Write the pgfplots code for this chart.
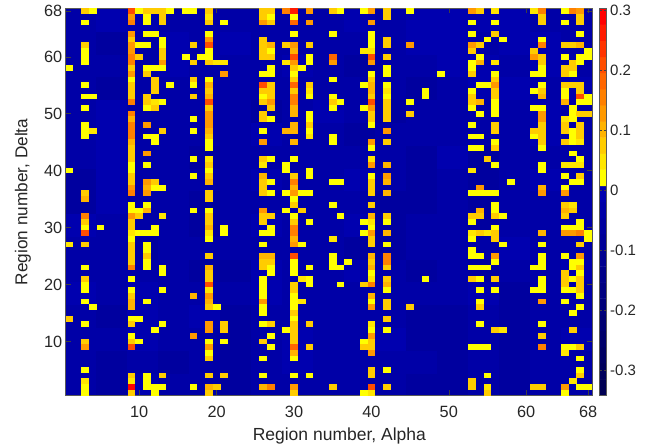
\documentclass[border=0pt]{standalone}
\usepackage{fontspec}
\setmainfont{Liberation Sans}
\usepackage{pgfplots}
\pgfplotsset{compat=1.18}
\pgfdeclareplotmark{cell}{\pgfpathrectangle{\pgfpoint{-3.9pt}{-2.875pt}}{\pgfpoint{7.8pt}{5.75pt}}\pgfusepathqfill}
\pgfplotsset{
 colormap={alphadelta}{rgb255=(0,0,84) rgb255=(0,0,92) rgb255=(0,0,99) rgb255=(0,0,107) rgb255=(0,0,114) rgb255=(0,0,122) rgb255=(0,0,129) rgb255=(0,0,137) rgb255=(0,0,144) rgb255=(0,0,152) rgb255=(0,0,159) rgb255=(0,0,167) rgb255=(0,0,175)
  rgb255=(255,255,0) rgb255=(255,230,0) rgb255=(255,204,0) rgb255=(255,179,0) rgb255=(255,153,0) rgb255=(255,128,0) rgb255=(255,102,0) rgb255=(255,77,0) rgb255=(255,51,0) rgb255=(255,26,0) rgb255=(255,0,0)},
 colormap access=piecewise constant,
 point meta min=-34.2, point meta max=30.4,
 tick style={color=black!75,line width=0.4pt},
 axis line style={color=black!65,line width=0.6pt},
 tick align=inside,
 major tick length=5pt,
 every tick label/.append style={text=black!85},
}
\newcommand{\R}[2]{\addplot[scatter,only marks,mark=cell,scatter src=explicit] table[row sep=\\,header=false,x index=0,meta index=1,y expr=#1]{#2};}
\begin{document}
\begin{tikzpicture}
\path[use as bounding box] (-65.7pt,-51.5pt) rectangle (596.3pt,395.5pt);
\begin{axis}[at={(0pt,0pt)},anchor=south west,scale only axis,width=526.3pt,height=387.2pt,
 xmin=0.5,xmax=68.5,ymin=0.5,ymax=68.5,axis on top,
 xtick={10,20,30,40,50,60,68},xticklabels={10,20,30,40,50,60,68},
 ytick={10,20,30,40,50,60,68},yticklabels={10,20,30,40,50,60,68},
 ticklabel style={font=\fontsize{16.3}{18}\selectfont},
 xticklabel style={yshift=-7pt},
 xlabel={Region number, Alpha},ylabel={Region number, Delta},
 label style={font=\fontsize{17.5}{20}\selectfont,text=black!85},
 xlabel style={at={(axis description cs:0.5,0)},anchor=center,xshift=10.5pt,yshift=-40pt},
 ylabel style={at={(axis description cs:0,0.5)},anchor=center,font=\fontsize{17.2}{20}\selectfont,yshift=42.7pt},
]
\addplot[matrix plot*,mesh/cols=17,point meta=explicit] table[row sep=\\,header=false,meta index=0,x expr={4*mod(\coordindex,17)+2.5},y expr={4*int((\coordindex+0.5)/17)+2.5}]{
-3\\-6\\-1\\-3\\-3\\-6\\-3\\-3\\-3\\-3\\-3\\-6\\-6\\-3\\-6\\-3\\-3\\
-3\\-6\\-3\\-6\\-3\\-6\\-3\\-1\\-3\\-3\\-3\\-3\\-6\\-3\\-6\\-3\\-3\\
-3\\-3\\-1\\-3\\-3\\-6\\-3\\-1\\-3\\-3\\-1\\-6\\-6\\-3\\-6\\-3\\-1\\
-3\\-6\\-1\\-3\\-1\\-6\\-3\\-3\\-3\\-3\\-3\\-6\\-6\\-3\\-6\\-3\\-3\\
-1\\-3\\-1\\-3\\-3\\-3\\-1\\-3\\-3\\-3\\-3\\-3\\-3\\-1\\-6\\-3\\-3\\
-3\\-3\\-3\\-3\\-6\\-6\\-1\\-3\\-3\\-1\\-3\\-6\\-3\\-6\\-3\\-3\\-1\\
-3\\-3\\-6\\-3\\-3\\-3\\-3\\-3\\-3\\-6\\-6\\-3\\-3\\-3\\-1\\-3\\-3\\
-1\\-3\\-3\\-3\\-6\\-3\\-1\\-3\\-3\\-1\\-6\\-3\\-3\\-6\\-3\\-3\\-3\\
-6\\-1\\-3\\-3\\-6\\-3\\-3\\-3\\-3\\-3\\-6\\-6\\-3\\-6\\-3\\-3\\-3\\
-6\\-1\\-3\\-3\\-3\\-3\\-1\\-3\\-3\\-1\\-3\\-6\\-3\\-6\\-3\\-1\\-3\\
-3\\-1\\-3\\-3\\-6\\-3\\-3\\-3\\-3\\-3\\-3\\-6\\-1\\-6\\-3\\-3\\-3\\
-3\\-1\\-3\\-3\\-3\\-3\\-1\\-3\\-3\\-6\\-3\\-3\\-3\\-3\\-3\\-1\\-3\\
-3\\-1\\-3\\-3\\-3\\-3\\-6\\-3\\-1\\-3\\-6\\-3\\-3\\-3\\-3\\-1\\-3\\
-3\\-6\\-3\\-3\\-3\\-3\\-3\\-3\\-3\\-3\\-3\\-6\\-3\\-1\\-1\\-3\\-1\\
-3\\-3\\-3\\-1\\-3\\-3\\-3\\-1\\-3\\-6\\-3\\-3\\-1\\-1\\-3\\-1\\-3\\
-3\\-6\\-3\\-1\\-3\\-1\\-3\\-3\\-3\\-3\\-3\\-1\\-1\\-3\\-1\\-1\\-3\\
-3\\-1\\-1\\-3\\-3\\-3\\-3\\-3\\-3\\-1\\-3\\-1\\-1\\-1\\-1\\-3\\-3\\
};
\R{68}{3 8\\4 2\\9 21\\10 2\\11 8\\12 8\\13 8\\14 2\\16 2\\17 2\\19 8\\26 8\\27 8\\29 16\\30 26\\32 13\\35 8\\36 2\\39 2\\40 13\\42 8\\45 2\\53 13\\54 8\\56 5\\61 5\\62 16\\65 2\\66 16\\67 13\\}
\R{67}{9 13\\11 2\\13 8\\19 5\\26 8\\27 2\\30 2\\42 8\\62 8\\67 8\\}
\R{66}{3 2\\9 16\\11 2\\13 8\\19 8\\21 2\\26 13\\27 8\\30 18\\32 13\\40 13\\53 2\\56 2\\62 8\\65 2\\67 8\\}
\R{64}{9 13\\11 2\\12 2\\19 2\\30 2\\35 2\\40 2\\53 2\\56 8\\67 2\\}
\R{63}{9 8\\13 2\\19 13\\26 8\\40 2\\42 8\\55 2\\57 2\\62 2\\}
\R{62}{3 8\\9 13\\10 2\\11 2\\13 2\\17 8\\19 21\\26 8\\27 10\\29 8\\30 13\\32 8\\40 2\\42 8\\45 13\\53 13\\54 8\\62 16\\65 8\\66 8\\67 10\\}
\R{61}{3 2\\9 13\\13 8\\19 2\\26 8\\27 2\\30 10\\39 5\\40 5\\53 8\\61 8\\68 2\\}
\R{60}{3 2\\9 16\\10 8\\13 8\\16 2\\18 2\\19 2\\26 8\\27 8\\30 21\\32 2\\35 18\\40 21\\42 8\\54 2\\61 13\\62 8\\65 2\\67 2\\68 2\\}
\R{59}{3 2\\9 16\\13 13\\17 8\\19 8\\20 5\\21 5\\29 5\\30 13\\32 2\\35 13\\40 13\\53 2\\54 10\\56 5\\62 8\\66 8\\67 2\\}
\R{58}{1 2\\9 8\\11 2\\12 2\\13 2\\27 2\\30 8\\31 2\\42 2\\53 2\\62 2\\65 8\\66 8\\}
\R{57}{9 13\\11 8\\21 13\\26 2\\27 2\\30 2\\40 2\\42 2\\49 2\\53 8\\56 2\\61 2\\62 2\\65 8\\66 2\\}
\R{56}{9 2\\12 8\\17 8\\19 2\\30 8\\35 2\\40 8\\56 8\\}
\R{55}{3 2\\9 8\\12 8\\14 2\\17 2\\19 10\\26 21\\27 8\\30 18\\32 8\\39 2\\40 10\\42 2\\54 2\\55 2\\56 13\\62 2\\65 8\\66 8\\67 8\\}
\R{54}{9 8\\12 8\\19 8\\26 8\\27 8\\30 8\\32 5\\40 10\\42 5\\47 2\\53 2\\56 8\\61 2\\62 8\\65 2\\67 8\\}
\R{53}{3 2\\4 2\\9 8\\11 8\\17 8\\19 10\\26 2\\27 8\\30 16\\32 2\\35 2\\40 8\\42 2\\47 2\\53 8\\56 8\\62 10\\65 2\\67 21\\68 2\\}
\R{52}{9 16\\11 8\\12 5\\13 2\\19 21\\26 8\\27 13\\30 16\\35 8\\36 2\\40 21\\42 8\\45 2\\53 8\\54 10\\56 2\\65 10\\67 2\\68 2\\}
\R{51}{3 2\\11 2\\12 8\\19 8\\27 8\\30 10\\35 2\\39 2\\40 13\\42 8\\53 2\\56 2\\61 2\\62 2\\66 2\\}
\R{50}{9 16\\19 13\\26 8\\30 10\\32 2\\40 8\\42 8\\45 8\\54 2\\56 2\\62 13\\66 2\\67 8\\68 8\\}
\R{49}{9 10\\17 2\\19 13\\26 8\\27 2\\32 2\\40 8\\42 8\\62 13\\65 5\\66 2\\}
\R{48}{3 2\\9 16\\11 13\\19 13\\30 10\\32 8\\40 2\\53 2\\56 8\\62 8\\65 8\\67 8\\}
\R{47}{3 2\\4 5\\9 16\\13 8\\17 2\\19 10\\26 2\\29 10\\30 10\\32 2\\42 13\\56 8\\61 8\\62 8\\65 8\\66 2\\67 8\\}
\R{46}{3 2\\9 16\\11 2\\12 2\\19 8\\32 5\\35 2\\53 2\\54 2\\61 2\\62 8\\66 2\\67 8\\}
\R{45}{9 10\\12 2\\19 2\\26 13\\30 10\\35 2\\40 13\\42 8\\56 2\\62 8\\65 8\\66 2\\67 5\\}
\R{44}{9 8\\19 2\\40 2\\53 2\\54 2\\56 8\\62 2\\}
\R{43}{9 8\\11 13\\66 2\\}
\R{42}{9 8\\17 2\\19 5\\26 8\\27 2\\30 2\\40 5\\55 8\\67 2\\}
\R{41}{9 2\\11 2\\19 8\\26 5\\29 2\\40 13\\42 10\\56 2\\62 2\\65 5\\66 5\\67 5\\}
\R{40}{1 2\\9 2\\19 2\\29 2\\32 2\\53 5\\62 2\\}
\R{39}{9 8\\17 2\\19 8\\26 10\\30 8\\32 2\\40 2\\42 13\\65 2\\67 8\\}
\R{38}{9 8\\11 13\\12 8\\19 10\\26 8\\27 2\\30 16\\35 2\\36 2\\40 8\\42 10\\58 2\\66 2\\67 2\\}
\R{37}{9 13\\11 10\\12 2\\13 2\\26 8\\30 10\\40 8\\54 13\\62 10\\65 2\\}
\R{36}{3 8\\9 16\\11 13\\19 8\\26 8\\27 2\\29 2\\30 13\\31 2\\32 2\\40 8\\42 10\\53 2\\54 2\\55 2\\56 2\\62 13\\65 13\\}
\R{35}{3 10\\19 8\\30 2\\}
\R{34}{9 2\\11 2\\30 8\\35 2\\40 8\\56 2\\65 8\\66 5\\}
\R{33}{9 2\\10 2\\11 10\\17 2\\19 2\\26 13\\29 2\\31 8\\54 10\\56 2\\65 10\\66 8\\}
\R{32}{3 16\\9 13\\10 8\\13 5\\19 8\\26 8\\27 8\\30 2\\36 2\\40 10\\42 8\\53 8\\54 8\\56 8\\57 2\\65 8\\}
\R{31}{3 8\\9 8\\19 8\\26 8\\30 8\\32 2\\39 2\\40 5\\42 2\\53 2\\67 2\\}
\R{30}{3 2\\5 2\\9 8\\12 2\\19 10\\21 2\\27 2\\30 16\\40 2\\56 2\\65 2\\66 2\\67 2\\}
\R{29}{3 21\\9 5\\10 2\\11 2\\12 2\\19 5\\21 2\\26 2\\27 2\\30 16\\39 2\\40 13\\42 10\\53 5\\54 8\\55 5\\56 8\\62 10\\65 13\\66 13\\67 16\\68 2\\}
\R{28}{9 2\\19 2\\30 10\\35 5\\40 8\\53 2\\56 8\\68 2\\}
\R{27}{1 5\\3 8\\9 8\\11 2\\26 2\\30 13\\31 2\\40 8\\42 2\\57 2\\62 2\\67 8\\}
\R{26}{9 8\\11 2\\53 2\\}
\R{25}{9 8\\11 8\\19 8\\26 10\\27 10\\30 21\\35 2\\40 10\\42 16\\53 2\\54 2\\56 13\\62 2\\65 2\\67 13\\}
\R{24}{9 8\\11 2\\26 8\\27 8\\30 2\\35 2\\37 2\\40 8\\42 16\\56 2\\62 2\\66 2\\67 2\\}
\R{23}{3 2\\9 16\\11 2\\13 2\\19 10\\26 8\\27 2\\30 2\\32 2\\35 2\\36 2\\40 10\\42 8\\53 2\\54 2\\55 2\\61 2\\62 2\\66 2\\67 8\\}
\R{22}{13 2\\19 8\\27 2\\30 2\\40 2\\65 8\\67 2\\}
\R{21}{3 8\\9 2\\19 8\\26 2\\31 5\\32 2\\40 5\\42 8\\47 2\\53 8\\54 2\\56 8\\62 2\\65 8\\66 2\\67 8\\}
\R{20}{3 2\\19 21\\26 2\\30 8\\32 2\\36 2\\39 8\\40 16\\42 10\\62 2\\65 8\\67 8\\}
\R{19}{3 2\\9 2\\13 2\\19 5\\26 2\\30 8\\42 2\\54 2\\56 2\\61 2\\62 2\\65 2\\66 2\\67 8\\}
\R{18}{9 8\\17 10\\19 13\\26 2\\30 2\\40 10\\67 2\\}
\R{17}{3 2\\9 10\\11 2\\19 10\\26 13\\30 2\\31 5\\40 2\\42 8\\54 2\\62 13\\65 2\\}
\R{16}{4 2\\9 10\\19 8\\20 2\\26 2\\30 2\\40 13\\42 8\\45 8\\54 8\\67 2\\}
\R{15}{26 2\\30 8\\66 2\\}
\R{14}{1 8\\9 2\\10 2\\30 2\\42 8\\}
\R{13}{3 2\\9 8\\13 2\\19 13\\21 8\\26 2\\27 8\\30 8\\32 8\\40 5\\54 2\\62 2\\}
\R{12}{12 2\\19 13\\21 8\\29 2\\30 8\\40 2\\42 2\\56 8\\57 5\\66 8\\}
\R{11}{9 2\\17 13\\27 2\\30 8\\40 13\\62 8\\}
\R{10}{3 8\\9 8\\10 2\\19 2\\21 2\\26 8\\30 8\\39 2\\40 8\\}
\R{9}{3 13\\9 21\\19 13\\27 2\\30 18\\32 8\\39 8\\40 8\\53 2\\54 2\\55 2\\62 16\\65 2\\66 2\\67 8\\}
\R{8}{19 2\\30 10\\40 13\\65 5\\}
\R{7}{19 8\\26 2\\30 2\\67 2\\}
\R{5}{3 2\\40 8\\42 2\\67 2\\}
\R{4}{9 8\\11 2\\13 8\\19 8\\21 8\\26 2\\30 2\\32 2\\40 8\\55 2\\67 8\\}
\R{3}{3 5\\9 5\\11 2\\53 8\\66 5\\}
\R{2}{3 2\\9 29\\11 2\\12 2\\13 2\\17 2\\19 10\\20 8\\26 10\\27 16\\30 13\\35 8\\40 21\\42 8\\53 8\\55 5\\61 8\\62 8\\65 13\\67 2\\68 2\\}
\R{1}{3 2\\9 8\\12 2\\19 8\\30 8\\39 2\\40 5\\55 8\\65 2\\}
\end{axis}
\begin{axis}[at={(533.6pt,0pt)},anchor=south west,scale only axis,width=7.4pt,height=387.2pt,
 xmin=0,xmax=1,ymin=-34.2,ymax=30.4,axis on top,xtick=\empty,
 ytick={-30,-20,-10,0,10,20,30},yticklabels={-0.3,-0.2,-0.1,0,0.1,0.2,0.3},
 yticklabel pos=right,major tick length=2.5pt,
 ticklabel style={font=\fontsize{15}{17}\selectfont},
]
\addplot[matrix plot*,mesh/cols=2,point meta=y] table[row sep=\\,header=false,x index=0,y index=1]{
0 -32.85\\1 -32.85\\0 -30.16\\1 -30.16\\0 -27.47\\1 -27.47\\0 -24.78\\1 -24.78\\0 -22.09\\1 -22.09\\0 -19.40\\1 -19.40\\0 -16.71\\1 -16.71\\0 -14.02\\1 -14.02\\0 -11.33\\1 -11.33\\0 -8.64\\1 -8.64\\0 -5.95\\1 -5.95\\0 -3.26\\1 -3.26\\0 -0.57\\1 -0.57\\0 2.12\\1 2.12\\0 4.81\\1 4.81\\0 7.50\\1 7.50\\0 10.19\\1 10.19\\0 12.88\\1 12.88\\0 15.57\\1 15.57\\0 18.26\\1 18.26\\0 20.95\\1 20.95\\0 23.64\\1 23.64\\0 26.33\\1 26.33\\0 29.02\\1 29.02\\
};
\end{axis}
\end{tikzpicture}
\end{document}
